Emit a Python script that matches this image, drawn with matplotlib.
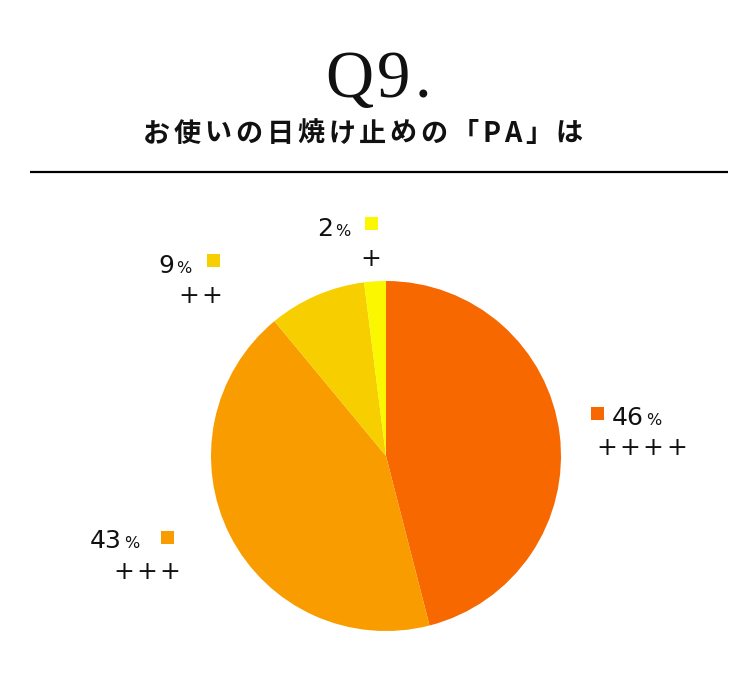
import matplotlib
matplotlib.use("Agg")
import matplotlib.pyplot as plt
from matplotlib.patches import Rectangle

W, H = 755, 686

# data
values = [46, 43, 9, 2]
percent_labels = ["46", "43", "9", "2"]
plus_labels = ["++++", "+++", "++", "+"]
colors = ["#F76800", "#F89C00", "#F7CF00", "#FAF700"]
title = "Q9."
subtitle = "お使いの日焼け止めの「PA」は"

fig = plt.figure(figsize=(W / 100, H / 100), dpi=100)
fig.patch.set_facecolor("white")

ov = fig.add_axes([0, 0, 1, 1])
ov.set_xlim(0, W)
ov.set_ylim(H, 0)
ov.axis("off")

cx, cy, r = 386, 456, 175
pax = fig.add_axes([(cx - r) / W, (H - cy - r) / H, 2 * r / W, 2 * r / H])
pax.pie(values, colors=colors, startangle=90, counterclock=False,
        wedgeprops=dict(linewidth=0))
pax.set_aspect("equal")
pax.set_xlim(-1, 1)
pax.set_ylim(-1, 1)
pax.axis("off")

renderer = fig.canvas.get_renderer()


def width_px(t):
    bb = t.get_window_extent(renderer=renderer)
    return bb.width


def spaced_text(x0, y, s, gap, **kw):
    """place characters one by one with extra spacing; returns end x"""
    x = x0
    for ch in s:
        t = ov.text(x, y, ch, ha="left", **kw)
        x += width_px(t) + gap
    return x - gap


# title: Q9. with slight letter spacing, centred
tkw = dict(family="Liberation Serif", fontsize=48, va="baseline",
           color="#111111")
tmp = ov.text(0, 0, title, **tkw)
tw = width_px(tmp)
tmp.remove()
gap_t = 4
total = tw + gap_t * (len(title) - 1)
spaced_text(378 - total / 2, 97, title, gap_t, **tkw)

# subtitle with letter spacing
skw = dict(family=["Noto Sans CJK JP", "DejaVu Sans"], fontsize=19.5,
           fontweight="bold", va="center", color="#111111")
widths = []
for ch in subtitle:
    t = ov.text(0, 0, ch, **skw)
    widths.append(width_px(t))
    t.remove()
target = 583 - 143
gap_s = (target - sum(widths)) / (len(subtitle) - 1)
spaced_text(143, 134, subtitle, gap_s, **skw)

ov.plot([30, 728], [172, 172], color="black", lw=1.6, solid_capstyle="butt")

# label layouts: (num_x, baseline_y, square_x, square_y, plus_x, plus_y)
layouts = [
    (612, 425, 591, 407, 596, 448),
    (90, 548, 161, 531, 113, 572),
    (158, 273, 207, 254, 178, 296),
    (317, 236, 365, 217, 360, 259),
]

for num, plus, col, (nx, by, sx, sy, plx, ply) in zip(
        percent_labels, plus_labels, colors, layouts):
    t = ov.text(nx, by, num, family="DejaVu Sans", fontsize=18, ha="left",
                va="baseline", color="#111111")
    ov.text(nx + width_px(t) + 2, by, "%", family="DejaVu Sans",
            fontsize=11.5, ha="left", va="baseline", color="#111111")
    ov.add_patch(Rectangle((sx, sy), 13, 13, facecolor=col, edgecolor="none"))
    spaced_text(plx, ply, plus, 2.5, family="DejaVu Sans", fontsize=18,
                va="center", color="#111111")

fig.savefig("out.png", dpi=100, facecolor="white")
